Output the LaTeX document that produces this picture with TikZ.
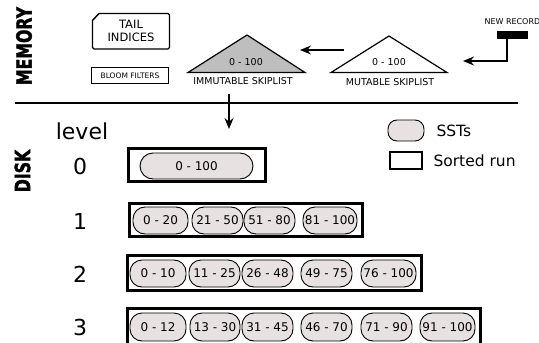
\documentclass[tikz,border=0pt]{standalone}
\usepackage{fontspec}
\setmainfont{DejaVu Sans}
\newfontfamily\headfont[FakeStretch=0.75,FakeBold=1.5]{DejaVu Sans Bold}
\usetikzlibrary{arrows.meta}
\definecolor{sstfill}{RGB}{231,225,225}
\definecolor{skipgray}{RGB}{190,190,190}
\tikzset{
  sst/.style={draw, line width=0.9pt, fill=sstfill, rounded corners=12pt,
    minimum height=27pt, inner sep=0pt, font=\fontsize{12}{12}\selectfont},
  run/.style={draw, line width=3pt, inner sep=0pt},
  flow/.style={line width=1.5pt, -{Stealth[length=11pt,width=9pt]}},
  skip/.style={line width=1.2pt, line join=miter},
  memlabel/.style={font=\fontsize{9.5}{9.5}\selectfont},
  lvl/.style={font=\fontsize{22}{22}\selectfont},
  head/.style={rotate=90, font=\headfont\fontsize{21}{21}\selectfont},
  legend/.style={anchor=west, font=\fontsize{15.5}{15.5}\selectfont},
}
\begin{document}
\begin{tikzpicture}[x=1pt,y=-1pt]
\useasboundingbox (0,0) rectangle (539,343);

% section headings
\node[head] (mem) at (24,46) {MEMORY};
\node[head] (disk) at (22.5,171) {DISK};
\draw[line width=1.8pt] (15,103) coordinate (sepL) -- (518,103) coordinate (sepR);

% in-memory structures: index card with a cut corner
\draw[line width=1.4pt, line join=miter]
  (99,13.5) -- (168,13.5) [rounded corners=1.5pt] -- (169.5,13.5) -- (169.5,49) -- (92.5,49) [sharp corners] -- (92.5,20.5) -- cycle;
\node[align=center, font=\fontsize{11.5}{13.5}\selectfont] (tail) at (131,31) {TAIL\\INDICES};
\node[draw, line width=1.4pt, minimum width=77pt, minimum height=16pt, inner sep=0pt,
  font=\fontsize{7.5}{7.5}\selectfont] (bloom) at (130,75.5) {BLOOM FILTERS};

% skiplists
\draw[skip, fill=skipgray] (188,72.5) -- (247,35) -- (305,72.5) -- cycle;
\node[memlabel] (immr) at (246,62) {0 - 100};
\node[memlabel] (imm) at (243,81.5) {IMMUTABLE SKIPLIST};
\draw[skip, fill=white] (331,72.5) -- (389,36) -- (447,72.5) -- cycle;
\node[memlabel] (mutr) at (389,62) {0 - 100};
\node[memlabel] (mut) at (390,82) {MUTABLE SKIPLIST};

% incoming record
\node[anchor=west, font=\fontsize{8}{8}\selectfont] (newtxt) at (481,22) {NEW RECORD};
\node[fill=black, minimum width=31pt, minimum height=8.5pt, inner sep=0pt] (rec) at (512.5,35) {};
\coordinate (bend) at (507,61);
\coordinate (mutin) at (463,61);
\draw[flow] (rec.south -| bend) -- (bend) -- (mutin);
\coordinate (mutout) at (344,50);
\coordinate (immin) at (300,50);
\draw[flow] (mutout) -- (immin);
\coordinate (flushA) at (229,94);
\coordinate (flushB) at (229,129);
\draw[flow] (flushA) -- (flushB);

% legend
\node[sst, minimum width=36pt, minimum height=21pt, rounded corners=9pt] (legsst) at (406,130.5) {};
\node[legend] (legssttxt) at (433,131) {SSTs};
\node[draw, line width=2.5pt, minimum width=32pt, minimum height=17pt, inner sep=0pt] (legrun) at (406,160.5) {};
\node[legend] (legruntxt) at (430,161) {Sorted run};

% level labels
\node[lvl] (level) at (82,131) {level};
\node[lvl] (n0) at (80,166) {0};
\node[lvl] (n1) at (80,221) {1};
\node[lvl] (n2) at (80,274) {2};
\node[lvl] (n3) at (80,327) {3};

% level 0
\node[run, minimum width=137pt, minimum height=33pt] (r0) at (197,165) {};
\node[sst, minimum width=113pt, minimum height=26pt, rounded corners=13pt] (s00) at (196.5,166) {0 - 100};

% level 1
\node[run, minimum width=233pt, minimum height=33pt] (r1) at (246,220) {};
\node[sst, minimum width=55pt] (s10) at (160.5,220.5) {0 - 20};
\node[sst, minimum width=51pt] (s11) at (217.5,220.5) {21 - 50};
\node[sst, minimum width=51pt] (s12) at (269.5,220.5) {51 - 80};
\node[sst, minimum width=54pt] (s13) at (330,220.5) {81 - 100};

% level 2
\node[run, minimum width=294pt, minimum height=35pt] (r2) at (274.5,273) {};
\node[sst, minimum width=56pt] (s20) at (158,273.5) {0 - 10};
\node[sst, minimum width=51pt] (s21) at (214.5,273.5) {11 - 25};
\node[sst, minimum width=51pt] (s22) at (267.5,273.5) {26 - 48};
\node[sst, minimum width=51pt] (s23) at (326.5,273.5) {49 - 75};
\node[sst, minimum width=55pt] (s24) at (388.5,273.5) {76 - 100};

% level 3
\node[run, minimum width=353pt, minimum height=37pt] (r3) at (304,327) {};
\node[sst, minimum width=56pt, minimum height=28pt] (s30) at (158,327) {0 - 12};
\node[sst, minimum width=50pt, minimum height=28pt] (s31) at (215,327) {13 - 30};
\node[sst, minimum width=51pt, minimum height=28pt] (s32) at (267.5,327) {31 - 45};
\node[sst, minimum width=51pt, minimum height=28pt] (s33) at (326.5,327) {46 - 70};
\node[sst, minimum width=51pt, minimum height=28pt] (s34) at (386.5,327) {71 - 90};
\node[sst, minimum width=55pt, minimum height=28pt] (s35) at (447.5,327) {91 - 100};
\end{tikzpicture}
\end{document}
